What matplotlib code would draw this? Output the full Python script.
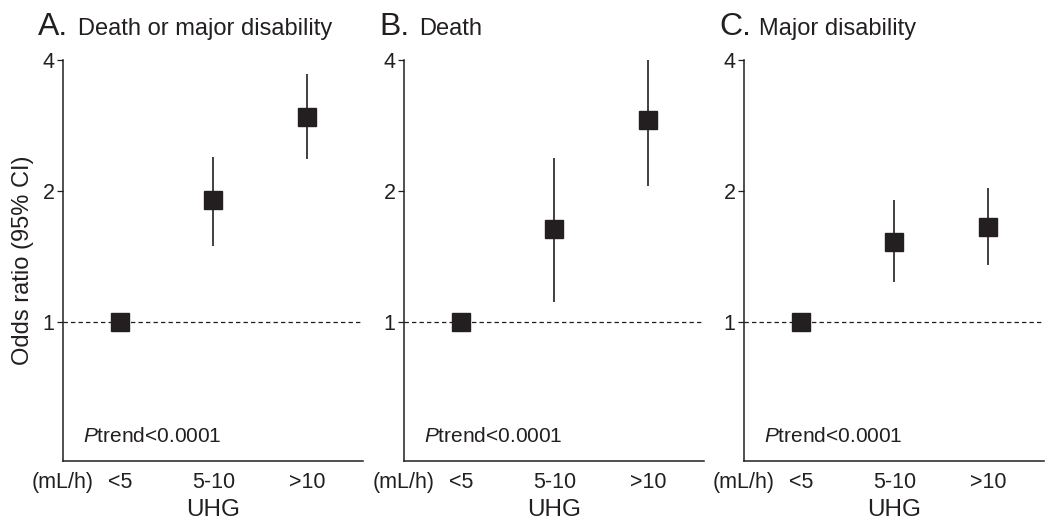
import numpy as np
import matplotlib
matplotlib.use("Agg")
import matplotlib.pyplot as plt

plt.rcParams['font.family'] = ['Liberation Sans', 'DejaVu Sans']
plt.rcParams['mathtext.fontset'] = 'custom'
plt.rcParams['mathtext.rm'] = 'Liberation Sans'
plt.rcParams['mathtext.it'] = 'Liberation Sans:italic'

categories = ["<5", "5-10", ">10"]
letters = ["A.", "B.", "C."]
titles = ["Death or major disability", "Death", "Major disability"]

# odds ratio and 95% CI per panel
or_a = [1.0, 1.91, 2.96]
lo_a = [1.0, 1.50, 2.37]
hi_a = [1.0, 2.39, 3.71]

or_b = [1.0, 1.64, 2.91]
lo_b = [1.0, 1.11, 2.06]
hi_b = [1.0, 2.38, 4.09]

or_c = [1.0, 1.53, 1.65]
lo_c = [1.0, 1.24, 1.35]
hi_c = [1.0, 1.91, 2.03]

panels = [(or_a, lo_a, hi_a), (or_b, lo_b, hi_b), (or_c, lo_c, hi_c)]

W, H = 1049, 525
fig = plt.figure(figsize=(W / 100, H / 100), dpi=100)
col = "#231f20"

lefts = [63, 404, 744]
width = 300
ax_bottom, ax_top = 461, 60
xmin, xmax = -0.61, 2.6

for i, (orv, lo, hi) in enumerate(panels):
    ax = fig.add_axes([lefts[i] / W, 1 - ax_bottom / H, width / W, (ax_bottom - ax_top) / H])
    x = np.arange(len(categories))
    orv = np.array(orv)
    yerr = [orv - np.array(lo), np.array(hi) - orv]
    ax.axhline(1, color=col, lw=0.9, ls=(0, (3.5, 2.5)), zorder=1)
    ax.errorbar(x, orv, yerr=yerr, fmt="s", color=col, ms=13, elinewidth=1.2,
                capsize=0, zorder=3)
    ax.set_yscale("log", base=2)
    ax.set_ylim(0.48, 4)
    ax.set_xlim(xmin, xmax)
    ax.set_yticks([1, 2, 4])
    ax.set_yticklabels(["1", "2", "4"])
    ax.yaxis.set_minor_locator(matplotlib.ticker.NullLocator())
    ax.set_xticks([xmin, 0, 1, 2])
    ax.set_xticklabels(["(mL/h)"] + categories)
    ax.tick_params(axis="x", length=0, pad=8, labelsize=15.5, colors=col)
    ax.tick_params(axis="y", length=4, width=0.9, pad=2, labelsize=15.5, colors=col)
    for s in ["top", "right"]:
        ax.spines[s].set_visible(False)
    for s in ["left", "bottom"]:
        ax.spines[s].set_color(col)
        ax.spines[s].set_linewidth(1.1)
    ax.set_xlabel("UHG", fontsize=17.5, color=col, labelpad=4)
    if i == 0:
        ax.set_ylabel("Odds ratio (95% CI)", fontsize=17, color=col, labelpad=6)
    ax.text(0.067, 0.047, r"$\it{P}$trend<0.0001", transform=ax.transAxes,
            fontsize=15, color=col, va="baseline", ha="left")
    fig.text((lefts[i] - 25) / W, 1 - 35 / H, letters[i], fontsize=23, color=col, va="baseline")
    fig.text((lefts[i] + 15) / W, 1 - 35 / H, titles[i], fontsize=17, color=col, va="baseline")

fig.savefig("out.png", dpi=100)
